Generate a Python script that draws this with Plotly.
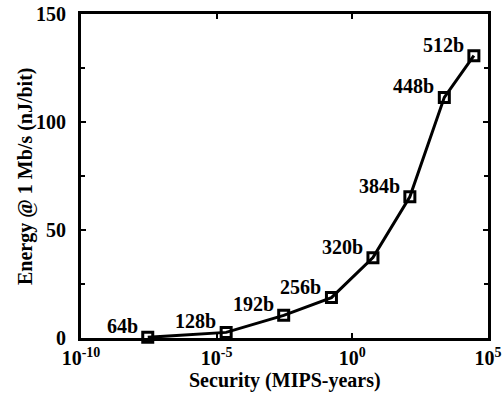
import plotly.graph_objects as go

labels = ["64b", "128b", "192b", "256b", "320b", "384b", "448b", "512b"]
security_log10 = [-7.54, -4.65, -2.53, -0.77, 0.76, 2.12, 3.39, 4.48]
energy = [0.3, 2.6, 10.5, 18.7, 37.2, 65.4, 111.4, 130.7]

x_tickvals = [1e-10, 1e-5, 1, 1e5]
x_ticktext = ["<b>10<sup>-10</sup></b>", "<b>10<sup>-5</sup></b>", "<b>10<sup>0</sup></b>", "<b>10<sup>5</sup></b>"]
y_tickvals = [0, 50, 100, 150]
y_ticktext = ["<b>0</b>", "<b>50</b>", "<b>100</b>", "<b>150</b>"]
x_title = "Security (MIPS-years)"
y_title = "Energy @ 1 Mb/s (nJ/bit)"

security = [10 ** v for v in security_log10]

font_family = "Liberation Serif"
fs = 20

fig = go.Figure()
fig.add_trace(go.Scatter(
    x=security, y=energy, mode="lines+markers",
    line=dict(color="black", width=3),
    marker=dict(symbol="square-open", size=10, color="black", line=dict(width=3, color="black")),
    showlegend=False, cliponaxis=False,
))

for lab, xv, yv in zip(labels, security_log10, energy):
    fig.add_annotation(x=xv, y=yv, xref="x", yref="y", text="<b>%s</b>" % lab,
                       showarrow=False, xanchor="right", yanchor="middle",
                       xshift=-8, yshift=11,
                       font=dict(family=font_family, size=fs, color="black"))

fig.add_annotation(x=0.5, y=0, xref="paper", yref="paper", text="<b>%s</b>" % x_title,
                   showarrow=False, xanchor="center", yanchor="middle", yshift=-42,
                   font=dict(family=font_family, size=fs, color="black"))
fig.add_annotation(x=0, y=0.5, xref="paper", yref="paper", text="<b>%s</b>" % y_title,
                   showarrow=False, xanchor="center", yanchor="middle", xshift=-56,
                   textangle=-90,
                   font=dict(family=font_family, size=fs, color="black"))

axis_common = dict(showline=True, linecolor="black", linewidth=3, mirror="ticks",
                   ticks="inside", tickcolor="black", tickwidth=2, ticklen=5,
                   showgrid=False, zeroline=False, automargin=False,
                   ticklabeloverflow="allow",
                   tickfont=dict(family=font_family, size=fs, color="black"))

fig.update_xaxes(type="log", range=[-10, 5], tickvals=x_tickvals, ticktext=x_ticktext,
                 **axis_common)
fig.update_yaxes(range=[0, 150], tickvals=y_tickvals, ticktext=y_ticktext,
                 ticklabelstandoff=8,
                 minor=dict(dtick=25, ticks="inside", ticklen=4, tickcolor="black", tickwidth=2),
                 **axis_common)

fig.update_layout(width=504, height=397, margin=dict(l=81, r=16, t=14, b=59),
                  paper_bgcolor="white", plot_bgcolor="white",
                  font=dict(family=font_family, color="black"))
fig.write_html("out.html", config={"displayModeBar": False},
               post_script="document.body.style.margin='0';")
